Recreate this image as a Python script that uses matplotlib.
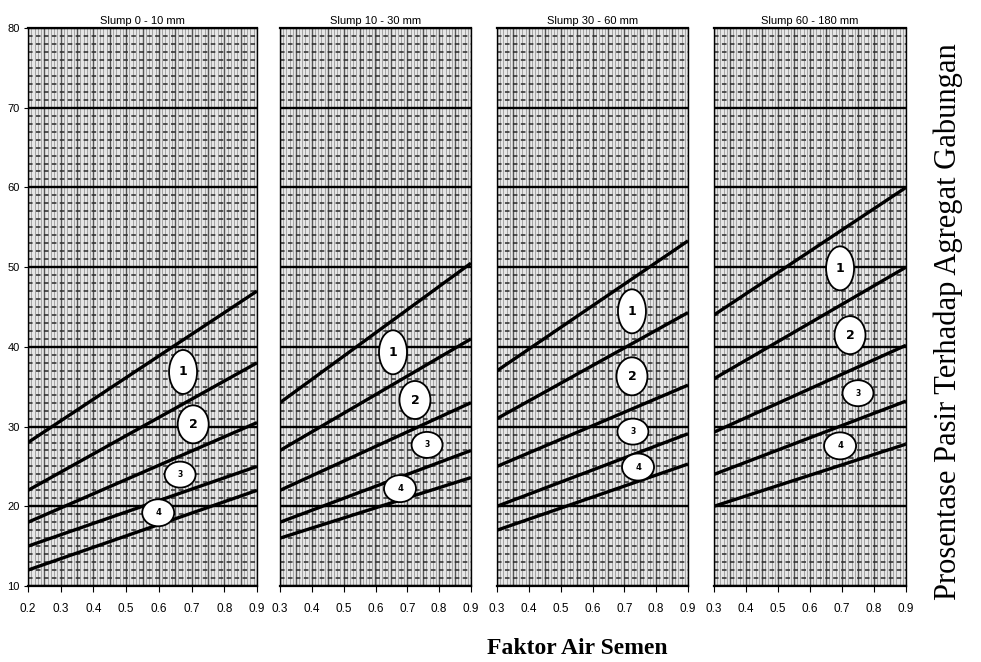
import numpy as np
import matplotlib.pyplot as plt
from matplotlib.patches import Ellipse

# judul tiap panel
slump_titles = ["Slump 0 - 10 mm", "Slump 10 - 30 mm", "Slump 30 - 60 mm", "Slump 60 - 180 mm"]

# rentang faktor air semen tiap panel
fas_min = [0.2, 0.3, 0.3, 0.3]
fas_max = [0.9, 0.9, 0.9, 0.9]

# nilai 5 garis batas (persen pasir) di ujung kiri dan kanan tiap panel
p1_left = [28, 22, 18, 15, 12]
p1_right = [47, 38, 30.5, 25, 22]
p2_left = [33, 27, 22, 18, 16]
p2_right = [50.5, 41, 33, 27, 23.6]
p3_left = [37, 31, 25, 20, 17]
p3_right = [53.3, 44.3, 35.2, 29.1, 25.3]
p4_left = [44, 36, 29.3, 24, 20]
p4_right = [60, 50, 40.2, 33.2, 27.8]

# posisi x label zona 1..4 (di tengah antara dua garis)
p1_label_x = [0.674, 0.705, 0.665, 0.598]
p2_label_x = [0.655, 0.724, 0.762, 0.677]
p3_label_x = [0.724, 0.724, 0.727, 0.743]
p4_label_x = [0.694, 0.725, 0.750, 0.694]

zone_labels = ["1", "2", "3", "4"]
y_ticks = [10, 20, 30, 40, 50, 60, 70, 80]

lefts = [p1_left, p2_left, p3_left, p4_left]
rights = [p1_right, p2_right, p3_right, p4_right]
label_xs = [p1_label_x, p2_label_x, p3_label_x, p4_label_x]

fig = plt.figure(figsize=(9.81, 6.62), dpi=100)

# posisi panel dalam piksel (kiri, lebar)
panel_px = [(28, 229), (280, 191), (497, 191), (714, 192)]
top_px, bottom_px = 28, 586
W, H = 981, 662

# ukuran elips (piksel) per nomor zona
ell_size = [(28, 44), (31, 38), (31, 26), (32, 27)]
ell_font = [9, 9, 5.5, 6]

for i in range(4):
    l, w = panel_px[i]
    ax = fig.add_axes([l / W, 1 - bottom_px / H, w / W, (bottom_px - top_px) / H])
    x0, x1 = fas_min[i], fas_max[i]
    ax.set_xlim(x0, x1)
    ax.set_ylim(10, 80)
    ax.set_facecolor("#e6e6e6")

    # tekstur kertas grafik
    ax.vlines(np.arange(x0, x1 + 1e-6, 0.01), 10, 80, color="#9a9a9a", lw=0.6, zorder=1)
    ax.vlines(np.arange(x0, x1 + 1e-6, 0.05), 10, 80, color="#555555", lw=1.0, zorder=1)
    ax.hlines(np.arange(10, 81, 1), x0, x1, color="#2a2a2a", lw=1.1,
              linestyles=(0, (3.0, 2.2)), zorder=1)
    ax.hlines(np.arange(10, 81, 10), x0, x1, color="black", lw=1.7, zorder=2)

    # garis batas zona
    for a, b in zip(lefts[i], rights[i]):
        ax.plot([x0, x1], [a, b], color="black", lw=2.4, zorder=3, solid_capstyle="butt")

    # elips label
    px_x = w / (x1 - x0)
    px_y = (bottom_px - top_px) / 70.0
    for k in range(4):
        lx = label_xs[i][k]
        t = (lx - x0) / (x1 - x0)
        ya = lefts[i][k] + (rights[i][k] - lefts[i][k]) * t
        yb = lefts[i][k + 1] + (rights[i][k + 1] - lefts[i][k + 1]) * t
        ly = (ya + yb) / 2
        ew, eh = ell_size[k]
        ax.add_patch(Ellipse((lx, ly), ew / px_x, eh / px_y, facecolor="white",
                             edgecolor="black", lw=1.3, zorder=4))
        ax.text(lx, ly, zone_labels[k], ha="center", va="center",
                fontsize=ell_font[k], fontweight="bold", zorder=5)

    ax.set_xticks(np.round(np.arange(x0, x1 + 1e-6, 0.1), 1))
    ax.set_xticklabels([f"{v:.1f}" for v in np.arange(x0, x1 + 1e-6, 0.1)],
                       fontsize=8.5, family="Liberation Sans")
    ax.tick_params(axis="x", length=4, width=0.8, pad=8)
    if i == 0:
        ax.set_yticks(y_ticks)
        ax.set_yticklabels([str(v) for v in y_ticks], fontsize=8, family="Liberation Sans")
        ax.tick_params(axis="y", length=3, width=0.8, pad=3)
    else:
        ax.set_yticks([])
    for s in ax.spines.values():
        s.set_color("black")
        s.set_linewidth(1.0)
    ax.spines["top"].set_linewidth(1.6)
    ax.spines["bottom"].set_linewidth(1.6)
    ax.set_title(slump_titles[i], fontsize=8, family="Liberation Sans", pad=3)

fig.text(577 / W, 1 - 648 / H, "Faktor Air Semen", ha="center", va="center",
         fontsize=17, fontweight="bold", family="Liberation Serif")
fig.text(948 / W, 1 - 322 / H, "Prosentase Pasir Terhadap Agregat Gabungan",
         ha="center", va="center", rotation=90, fontsize=22, family="Liberation Serif")

plt.savefig("out.png", dpi=100)
